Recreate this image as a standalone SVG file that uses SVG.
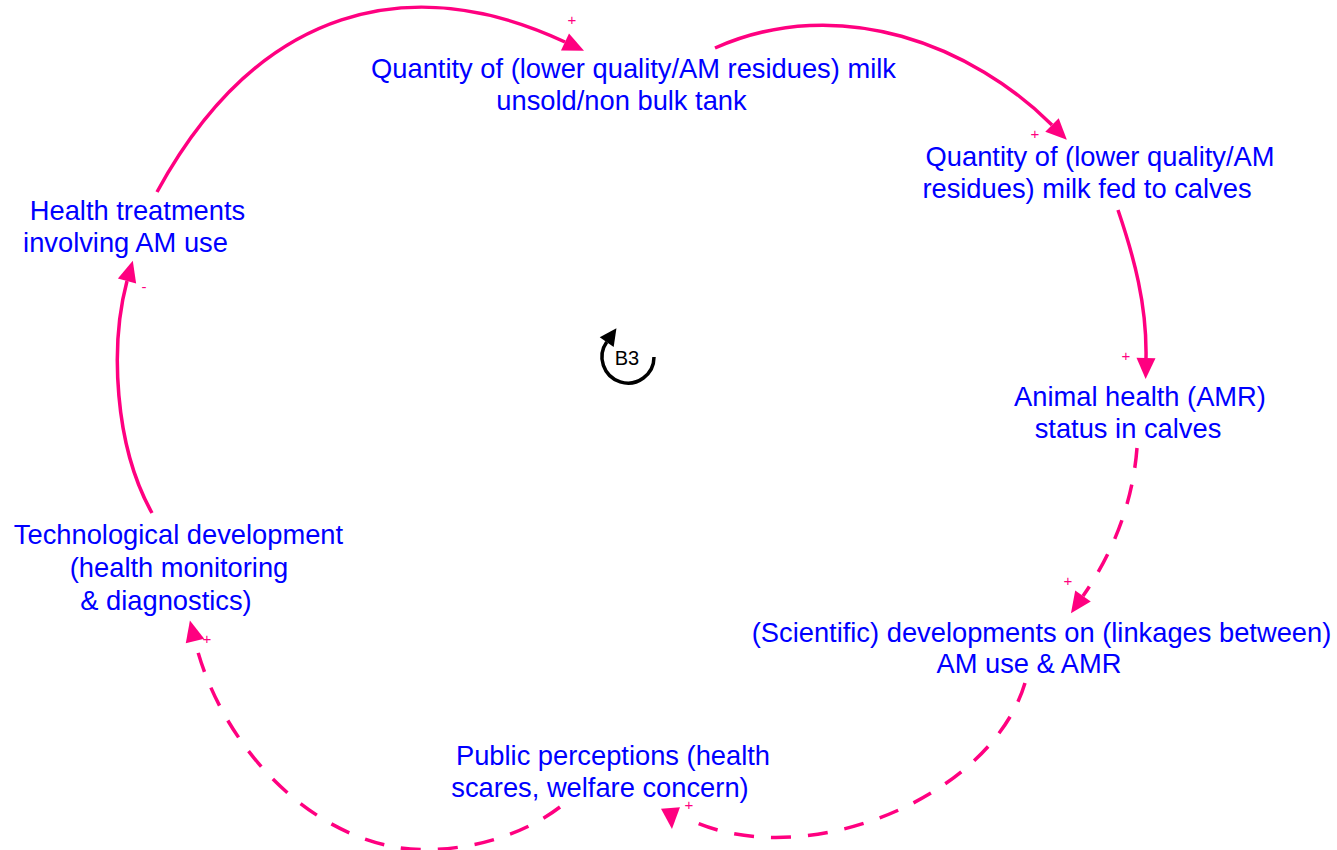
<svg xmlns="http://www.w3.org/2000/svg" xmlns:xlink="http://www.w3.org/1999/xlink" width="1337" height="850" viewBox="0 0 1337 850">
<style>
.lbl{font-family:"Liberation Sans",Arial,sans-serif;font-size:27.3px;fill:#0000ff;text-anchor:middle}
.pol{font-family:"Liberation Sans",Arial,sans-serif;font-size:15px;fill:#ff0080;text-anchor:middle}
.lk{fill:none;stroke:#ff0080;stroke-width:3.5}
.dash{stroke-dasharray:20 17}
</style>
<defs>
<path id="ah" d="M0,-9.5 L21,0 L0,9.5 Z" fill="#ff0080"/>
<path id="ahb" d="M0,-8.5 L17,0 L0,8.5 Z" fill="#000"/>
</defs>
<rect width="1337" height="850" fill="#fff"/>
<g id="connectors">
<path class="lk" d="M157,192 C259,5 411,-30 565,42"/>
<use xlink:href="#ah" transform="translate(565,42) rotate(25)"/>
<text class="pol" x="572" y="25">+</text>
<path class="lk" d="M715,48 C841,-8 974,47 1052,125"/>
<use xlink:href="#ah" transform="translate(1052,125) rotate(45)"/>
<text class="pol" x="1035" y="139">+</text>
<path class="lk" d="M1118,210 C1134,257 1147,305 1146,358"/>
<use xlink:href="#ah" transform="translate(1146,358) rotate(91)"/>
<text class="pol" x="1126" y="361">+</text>
<path class="lk dash" d="M1137,448 C1133,500 1115,550 1083,596"/>
<use xlink:href="#ah" transform="translate(1083,596) rotate(125)"/>
<text class="pol" x="1068" y="586">+</text>
<path class="lk dash" d="M1025,683 C990,800 800,875 686,818"/>
<use xlink:href="#ah" transform="translate(670.5,808) rotate(86)"/>
<text class="pol" x="689" y="810">+</text>
<path class="lk dash" d="M560,807 C510,845 440,855 395,847 C300,830 219,739 195,641"/>
<use xlink:href="#ah" transform="translate(195,641) rotate(-104)"/>
<text class="pol" x="207" y="644">+</text>
<path class="lk" d="M152,513 C114,445 110,345 127,281"/>
<use xlink:href="#ah" transform="translate(127,281) rotate(-74)"/>
<text class="pol" x="144" y="292">-</text>
</g>
<g id="n1"><text class="lbl"><tspan x="633.5" y="78">Quantity of (lower quality/AM residues) milk</tspan><tspan x="621.5" y="110">unsold/non bulk tank</tspan></text></g>
<g id="n2"><text class="lbl"><tspan x="1100" y="166">Quantity of (lower quality/AM</tspan><tspan x="1087" y="198">residues) milk fed to calves</tspan></text></g>
<g id="n3"><text class="lbl"><tspan x="1140" y="406">Animal health (AMR)</tspan><tspan x="1128" y="438">status in calves</tspan></text></g>
<g id="n4"><text class="lbl"><tspan x="1041.5" y="642">(Scientific) developments on (linkages between)</tspan><tspan x="1029" y="673">AM use &amp; AMR</tspan></text></g>
<g id="n5"><text class="lbl"><tspan x="613" y="765">Public perceptions (health</tspan><tspan x="600" y="797">scares, welfare concern)</tspan></text></g>
<g id="n6"><text class="lbl"><tspan x="178.5" y="544">Technological development</tspan><tspan x="179" y="577">(health monitoring</tspan><tspan x="166" y="610">&amp; diagnostics)</tspan></text></g>
<g id="n7"><text class="lbl"><tspan x="137.5" y="220">Health treatments</tspan><tspan x="125.5" y="252">involving AM use</tspan></text></g>
<g id="loopB3">
<path d="M654,357 A26,26 0 1,1 606.7,342.1" fill="none" stroke="#000" stroke-width="3.5"/>
<use xlink:href="#ahb" transform="translate(606.7,342.1) rotate(-55)"/>
<text x="627" y="365" font-family="Liberation Sans,Arial,sans-serif" font-size="20" fill="#000" text-anchor="middle">B3</text>
</g>
</svg>
